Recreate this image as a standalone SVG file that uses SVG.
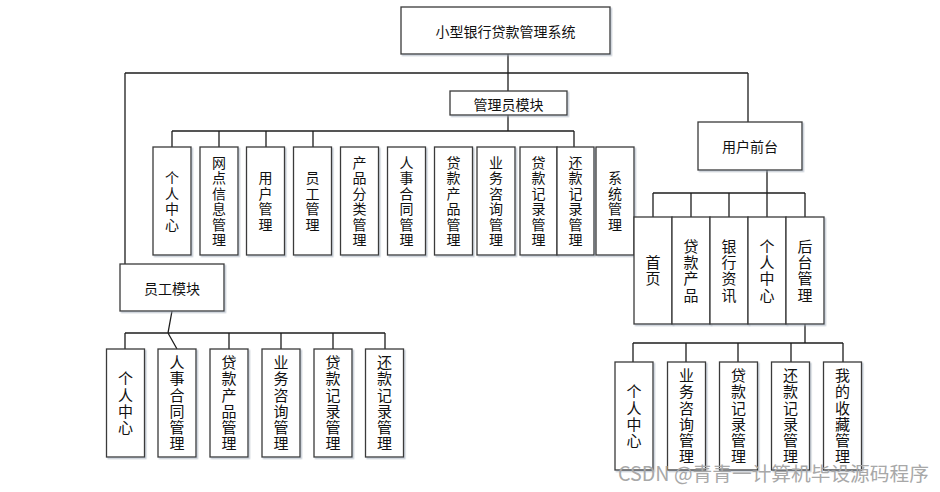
<svg xmlns="http://www.w3.org/2000/svg" width="940" height="492" viewBox="0 0 940 492">
<defs>
<filter id="sh" x="-10%" y="-10%" width="130%" height="130%">
<feDropShadow dx="1.5" dy="1.5" stdDeviation="0.6" flood-color="#9aa6b4" flood-opacity="0.55"/>
</filter>
<style>
.box{fill:#fff;stroke:#3a3a3a;stroke-width:1.3;filter:url(#sh)}
.ln{fill:none;stroke:#1e1e1e;stroke-width:1.3}
.h{font-family:"Noto Sans CJK SC","Liberation Sans",sans-serif;font-size:14px;fill:#111;text-anchor:middle;dominant-baseline:central}
.v{font-family:"Noto Sans CJK SC","Liberation Sans",sans-serif;font-size:14px;fill:#111;text-anchor:middle;writing-mode:vertical-rl;text-orientation:upright;letter-spacing:1.5px}
.v2{font-family:"Noto Sans CJK SC","Liberation Sans",sans-serif;font-size:15px;fill:#111;text-anchor:middle;writing-mode:vertical-rl;text-orientation:upright;letter-spacing:1.3px}
.wm{font-family:"Noto Sans CJK SC","Liberation Sans",sans-serif;font-size:19.7px;fill:#a8a8a8}
</style>
</defs>
<rect width="940" height="492" fill="#fff"/>

<g id="connectors">
<path class="ln" d="M508 54V91M125 73H748M125 73V264M748 73V122"/>
<path class="ln" d="M508 115V131M172 131H574M172 131V147M219 131V147M266 131V147M313 131V147M574 131V147"/>
<path class="ln" d="M767 170V193M653 193H805M653 193V217M691 193V217M729 193V217M767 193V217M805 193V217"/>
<path class="ln" d="M805 324V343M633 343H843M633 343V362M686 343V362M738 343V362M791 343V362M843 343V362"/>
<path class="ln" d="M172 311L168 333L177 349M125 333H385M125 333V349M229 333V349M281 333V349M333 333V349M385 333V349"/>
</g>

<g id="root"><rect class="box" x="401" y="7" width="209" height="47"/><text class="h" x="505.5" y="31">小型银行贷款管理系统</text></g>
<g id="admin"><rect class="box" x="450" y="91" width="117" height="24"/><text class="h" x="508.5" y="103.5">管理员模块</text></g>
<g id="front"><rect class="box" x="698" y="122" width="104" height="48"/><text class="h" x="750" y="146">用户前台</text></g>
<g id="staff"><rect class="box" x="120" y="264" width="104" height="47"/><text class="h" x="172" y="287.5">员工模块</text></g>

<g id="a1"><rect class="box" x="153" y="147" width="38" height="108"/><text class="v" x="172" y="201.7">个人中心</text></g>
<g id="a2"><rect class="box" x="200" y="147" width="38" height="108"/><text class="v" x="219" y="201.7">网点信息管理</text></g>
<g id="a3"><rect class="box" x="246.5" y="147" width="38" height="108"/><text class="v" x="265.5" y="201.7">用户管理</text></g>
<g id="a4"><rect class="box" x="293.5" y="147" width="38" height="108"/><text class="v" x="312.5" y="201.7">员工管理</text></g>
<g id="a5"><rect class="box" x="340.5" y="147" width="38" height="108"/><text class="v" x="359.5" y="201.7">产品分类管理</text></g>
<g id="a6"><rect class="box" x="387.5" y="147" width="38" height="108"/><text class="v" x="406.5" y="201.7">人事合同管理</text></g>
<g id="a7"><rect class="box" x="434.5" y="147" width="38" height="108"/><text class="v" x="453.5" y="201.7">贷款产品管理</text></g>
<g id="a8"><rect class="box" x="477" y="147" width="38" height="108"/><text class="v" x="496" y="201.7">业务咨询管理</text></g>
<g id="a9"><rect class="box" x="520" y="147" width="37" height="108"/><text class="v" x="538.5" y="201.7">贷款记录管理</text></g>
<g id="a10"><rect class="box" x="557" y="147" width="37" height="108"/><text class="v" x="575.5" y="201.7">还款记录管理</text></g>
<g id="a11"><rect class="box" x="596" y="147" width="38" height="108"/><text class="v" x="615" y="201.7">系统管理</text></g>

<g id="f1"><rect class="box" x="634" y="217" width="38" height="107"/><text class="v2" x="653" y="271.2">首页</text></g>
<g id="f2"><rect class="box" x="672" y="217" width="38" height="107"/><text class="v2" x="691" y="271.2">贷款产品</text></g>
<g id="f3"><rect class="box" x="710" y="217" width="38" height="107"/><text class="v2" x="729" y="271.2">银行资讯</text></g>
<g id="f4"><rect class="box" x="748" y="217" width="38" height="107"/><text class="v2" x="767" y="271.2">个人中心</text></g>
<g id="f5"><rect class="box" x="786" y="217" width="38" height="107"/><text class="v2" x="805" y="271.2">后台管理</text></g>

<g id="b1"><rect class="box" x="615" y="362" width="38" height="108"/><text class="v2" x="634" y="416.7">个人中心</text></g>
<g id="b2"><rect class="box" x="667.5" y="362" width="38" height="108"/><text class="v2" x="686.5" y="416.7">业务咨询管理</text></g>
<g id="b3"><rect class="box" x="719.5" y="362" width="38" height="108"/><text class="v2" x="738.5" y="416.7">贷款记录管理</text></g>
<g id="b4"><rect class="box" x="771.5" y="362" width="38" height="108"/><text class="v2" x="790.5" y="416.7">还款记录管理</text></g>
<g id="b5"><rect class="box" x="823.5" y="362" width="38" height="108"/><text class="v2" x="842.5" y="416.7">我的收藏管理</text></g>

<g id="s1"><rect class="box" x="106.5" y="349" width="38" height="108"/><text class="v2" x="125.5" y="403.7">个人中心</text></g>
<g id="s2"><rect class="box" x="158" y="349" width="38" height="108"/><text class="v2" x="177" y="403.7">人事合同管理</text></g>
<g id="s3"><rect class="box" x="210" y="349" width="38" height="108"/><text class="v2" x="229" y="403.7">贷款产品管理</text></g>
<g id="s4"><rect class="box" x="262" y="349" width="38" height="108"/><text class="v2" x="281" y="403.7">业务咨询管理</text></g>
<g id="s5"><rect class="box" x="314" y="349" width="38" height="108"/><text class="v2" x="333" y="403.7">贷款记录管理</text></g>
<g id="s6"><rect class="box" x="365.5" y="349" width="38" height="108"/><text class="v2" x="384.5" y="403.7">还款记录管理</text></g>

<text class="wm" x="618" y="481">CSDN @青青一计算机毕设源码程序</text>
</svg>
